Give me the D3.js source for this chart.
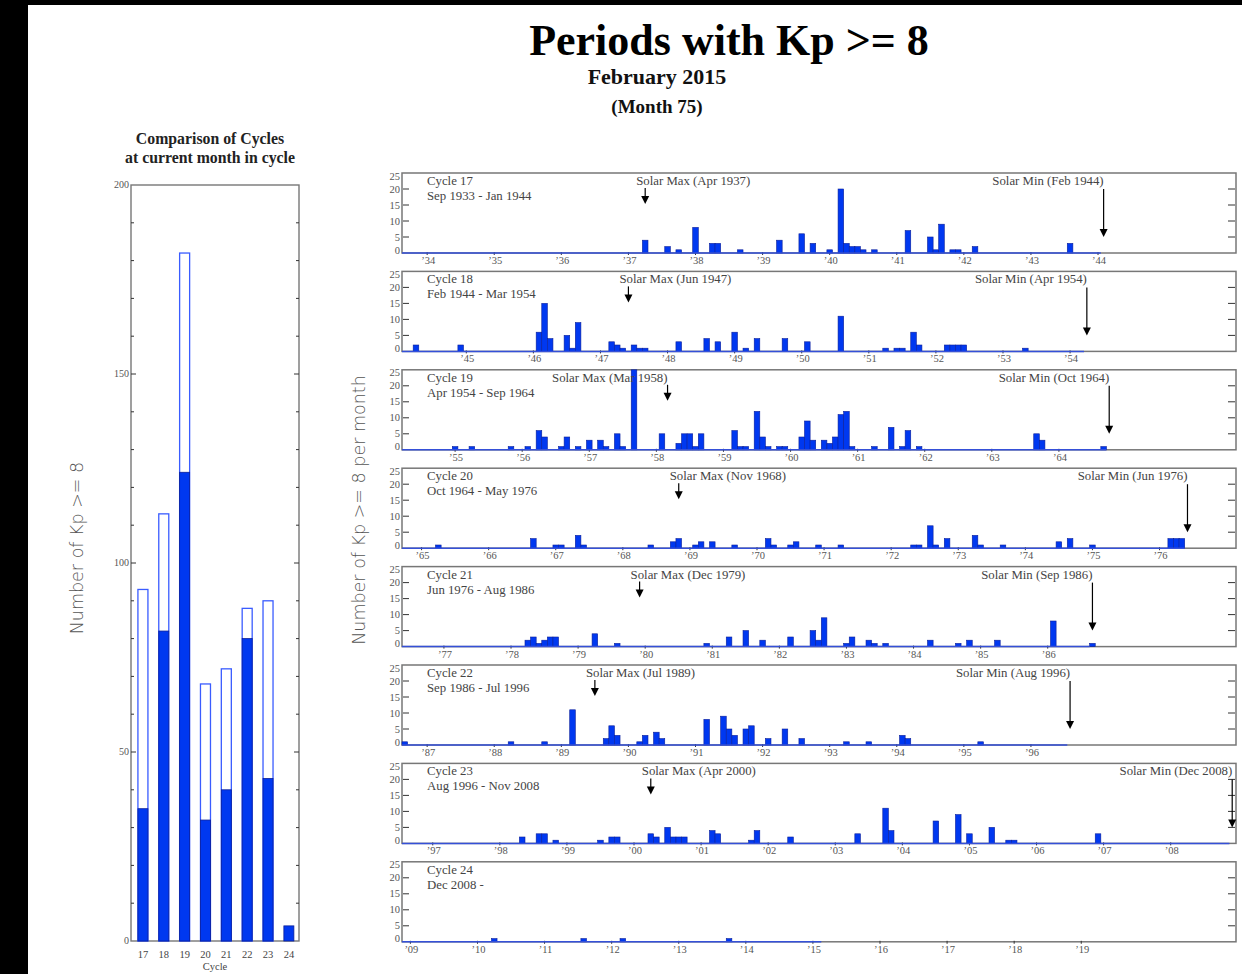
<!DOCTYPE html>
<html>
<head>
<meta charset="utf-8">
<script src="https://cdn.jsdelivr.net/npm/d3@7"></script>
<style>
  html, body { margin: 0; padding: 0; background: #000; }
  svg { display: block; }
  text { font-family: "Liberation Serif", "DejaVu Serif", serif; }
</style>
</head>
<body>
<svg id="chart" width="1242" height="974"></svg>
<script>
// Comparison of cycles (left chart)
const cycles = [17, 18, 19, 20, 21, 22, 23, 24];
const cycleTotals = [93, 113, 182, 68, 72, 88, 90, 4];
const atCurrentMonth = [35, 82, 124, 32, 40, 80, 43, 4];
const leftTicks = [0, 50, 100, 150, 200];

// Cycle panels (right)
const cycleNames = ['Cycle 17', 'Cycle 18', 'Cycle 19', 'Cycle 20', 'Cycle 21', 'Cycle 22', 'Cycle 23', 'Cycle 24'];
const cycleRanges = ['Sep 1933 - Jan 1944', 'Feb 1944 - Mar 1954', 'Apr 1954 - Sep 1964', 'Oct 1964 - May 1976',
  'Jun 1976 - Aug 1986', 'Sep 1986 - Jul 1996', 'Aug 1996 - Nov 2008', 'Dec 2008 -'];
const startYears = [1933, 1944, 1954, 1964, 1976, 1986, 1996, 2008];
const startMonths = [9, 2, 4, 10, 6, 9, 8, 12];
const lastMonth = [124, 121, 125, 139, 122, 118, 147, 74];
const lastYearTick = [124, 121, 125, 139, 122, 118, 147, 125];
const maxLabels = ['Solar Max (Apr 1937)', 'Solar Max (Jun 1947)', 'Solar Max (Mar 1958)', 'Solar Max (Nov 1968)',
  'Solar Max (Dec 1979)', 'Solar Max (Jul 1989)', 'Solar Max (Apr 2000)', null];
const maxMonth = [43, 40, 47, 49, 42, 34, 44, null];
const maxAnchor = ['start', 'start', 'end', 'start', 'start', 'start', 'start', null];
const minLabels = ['Solar Min (Feb 1944)', 'Solar Min (Apr 1954)', 'Solar Min (Oct 1964)', 'Solar Min (Jun 1976)',
  'Solar Min (Sep 1986)', 'Solar Min (Aug 1996)', 'Solar Min (Dec 2008)', null];
const minMonth = [125, 122, 126, 140, 123, 119, 148, null];
const panelTicks = [0, 5, 10, 15, 20, 25];

// [month in cycle, number of Kp >= 8 periods]
const c17 = [[43, 4], [47, 2], [49, 1], [52, 8], [55, 3], [56, 3], [60, 1], [67, 4], [71, 6], [73, 3], [76, 1], [78, 20],
  [79, 3], [80, 2], [81, 2], [82, 1], [84, 1], [90, 7], [94, 5], [95, 1], [96, 9], [98, 1], [99, 1], [102, 2], [119, 3]];
const c18 = [[2, 2], [10, 2], [24, 6], [25, 15], [26, 4], [29, 5], [30, 1], [31, 9], [37, 3], [38, 2], [39, 1], [41, 2],
  [42, 1], [43, 1], [49, 3], [54, 4], [56, 3], [59, 6], [61, 1], [63, 4], [68, 4], [72, 3], [78, 11], [86, 1], [88, 1],
  [89, 1], [91, 6], [92, 2], [97, 2], [98, 2], [99, 2], [100, 2], [111, 1]];
const c19 = [[9, 1], [12, 1], [19, 1], [22, 1], [24, 6], [25, 4], [28, 1], [29, 4], [31, 1], [33, 3], [35, 3], [36, 1],
  [38, 5], [39, 1], [41, 25], [46, 5], [49, 2], [50, 5], [51, 5], [52, 1], [53, 5], [59, 6], [60, 1], [61, 1], [63, 12],
  [64, 4], [65, 1], [67, 1], [68, 1], [71, 4], [72, 9], [73, 3], [75, 3], [76, 2], [77, 4], [78, 11], [79, 12], [80, 1],
  [84, 1], [87, 7], [89, 1], [90, 6], [92, 1], [113, 5], [114, 3], [125, 1]];
const c20 = [[6, 1], [23, 3], [27, 1], [28, 1], [31, 4], [32, 1], [44, 1], [48, 2], [49, 3], [52, 1], [53, 2], [55, 2],
  [59, 1], [65, 3], [66, 1], [69, 1], [70, 2], [74, 1], [78, 1], [91, 1], [92, 1], [94, 7], [95, 1], [97, 3], [102, 4],
  [103, 1], [107, 1], [117, 2], [119, 3], [123, 1], [137, 3], [138, 3], [139, 3]];
const c21 = [[22, 2], [23, 3], [24, 1], [25, 2], [26, 3], [27, 3], [34, 4], [38, 1], [54, 1], [58, 3], [61, 5], [64, 2],
  [69, 3], [73, 5], [74, 2], [75, 9], [79, 1], [80, 3], [83, 2], [84, 1], [86, 1], [94, 2], [99, 1], [101, 2], [106, 2],
  [116, 8], [123, 1]];
const c22 = [[0, 1], [19, 1], [25, 1], [30, 11], [36, 2], [37, 6], [38, 3], [42, 1], [43, 3], [45, 4], [46, 2], [54, 8],
  [57, 9], [58, 5], [59, 3], [61, 5], [62, 6], [65, 2], [68, 5], [71, 2], [79, 1], [83, 1], [89, 3], [90, 2], [103, 1]];
const c23 = [[21, 2], [24, 3], [25, 3], [27, 1], [35, 1], [37, 2], [38, 2], [44, 3], [45, 2], [47, 5], [48, 2], [49, 2],
  [50, 2], [55, 4], [56, 3], [62, 1], [63, 4], [69, 2], [81, 3], [86, 11], [87, 4], [95, 7], [99, 9], [101, 3], [105, 5],
  [108, 1], [109, 1], [124, 3]];
const c24 = [[16, 1], [32, 1], [39, 1], [58, 1]];
const cycleData = [c17, c18, c19, c20, c21, c22, c23, c24];

const blue = '#0038f0';
const blueEdge = '#0a1f9a';
const grey = '#444';
const panelFont = '12.8px';

const svg = d3.select('#chart');

// white page on the black screen
svg.append('rect')
  .attr('x', 28).attr('y', 5)
  .attr('width', 1214).attr('height', 969)
  .attr('fill', '#fff');

// Titles
svg.append('text')
  .attr('x', 729).attr('y', 55)
  .attr('text-anchor', 'middle')
  .style('font-size', '44px').style('font-weight', 'bold')
  .attr('fill', '#000')
  .text('Periods with Kp >= 8');

svg.append('text')
  .attr('x', 657).attr('y', 84)
  .attr('text-anchor', 'middle')
  .style('font-size', '22px').style('font-weight', 'bold')
  .attr('fill', '#111')
  .text('February 2015');

svg.append('text')
  .attr('x', 657).attr('y', 113)
  .attr('text-anchor', 'middle')
  .style('font-size', '19px').style('font-weight', 'bold')
  .attr('fill', '#111')
  .text('(Month 75)');

// ---- Left chart: comparison of cycles ----
const left = { x0: 131, x1: 299, y0: 185, y1: 941 };

svg.append('text')
  .attr('x', 210).attr('y', 144)
  .attr('text-anchor', 'middle')
  .style('font-size', '15.8px').style('font-weight', 'bold')
  .attr('fill', '#222')
  .text('Comparison of Cycles');

svg.append('text')
  .attr('x', 210).attr('y', 163)
  .attr('text-anchor', 'middle')
  .style('font-size', '15.8px').style('font-weight', 'bold')
  .attr('fill', '#222')
  .text('at current month in cycle');

const xLeft = d3.scaleBand()
  .domain(cycles)
  .range([left.x0 + 1.5, left.x1 + 0.3])
  .paddingInner(0.52)
  .paddingOuter(0.26);

const yLeft = d3.scaleLinear()
  .domain([0, 200])
  .range([left.y1, left.y0]);

const leftChart = svg.append('g');

leftChart.append('rect')
  .attr('x', left.x0).attr('y', left.y0)
  .attr('width', left.x1 - left.x0).attr('height', left.y1 - left.y0)
  .attr('fill', '#fff')
  .attr('stroke', '#777')
  .attr('stroke-width', 1.4);

// minor ticks every 10, major every 50
d3.range(10, 200, 10).forEach(v => {
  const len = v % 50 === 0 ? 5 : 3;
  leftChart.append('line')
    .attr('x1', left.x0).attr('x2', left.x0 + len)
    .attr('y1', yLeft(v)).attr('y2', yLeft(v))
    .attr('stroke', '#333');
  leftChart.append('line')
    .attr('x1', left.x1 - len).attr('x2', left.x1)
    .attr('y1', yLeft(v)).attr('y2', yLeft(v))
    .attr('stroke', '#333');
});

leftChart.selectAll('.ltick')
  .data(leftTicks)
  .enter()
  .append('text')
  .attr('class', 'ltick')
  .attr('x', left.x0 - 2)
  .attr('y', d => yLeft(d) + 3)
  .attr('text-anchor', 'end')
  .style('font-size', '10px')
  .attr('fill', '#555')
  .text(d => d);

// outlined bars: total for the whole cycle
leftChart.selectAll('.total')
  .data(cycles.map((c, i) => ({ c, v: cycleTotals[i] })).filter(d => d.c !== 24))
  .enter()
  .append('rect')
  .attr('class', 'total')
  .attr('x', d => xLeft(d.c))
  .attr('y', d => yLeft(d.v))
  .attr('width', xLeft.bandwidth())
  .attr('height', d => yLeft(0) - yLeft(d.v))
  .attr('fill', '#fff')
  .attr('stroke', '#3a5cff')
  .attr('stroke-width', 1.3);

// filled bars: count at current month in cycle
leftChart.selectAll('.current')
  .data(cycles.map((c, i) => ({ c, v: atCurrentMonth[i] })))
  .enter()
  .append('rect')
  .attr('class', 'current')
  .attr('x', d => xLeft(d.c))
  .attr('y', d => yLeft(d.v))
  .attr('width', xLeft.bandwidth())
  .attr('height', d => yLeft(0) - yLeft(d.v))
  .attr('fill', blue)
  .attr('stroke', blueEdge)
  .attr('stroke-width', 0.8);

leftChart.selectAll('.clabel')
  .data(cycles)
  .enter()
  .append('text')
  .attr('class', 'clabel')
  .attr('x', d => xLeft(d) + xLeft.bandwidth() / 2)
  .attr('y', 958)
  .attr('text-anchor', 'middle')
  .style('font-size', '10.5px')
  .attr('fill', '#444')
  .text(d => d);

leftChart.append('text')
  .attr('x', 215).attr('y', 970)
  .attr('text-anchor', 'middle')
  .style('font-size', '10.5px')
  .attr('fill', '#444')
  .text('Cycle');

leftChart.append('text')
  .attr('transform', 'translate(83,548) rotate(-90)')
  .attr('text-anchor', 'middle')
  .style('font-family', '"DejaVu Sans", sans-serif')
  .style('font-size', '17.5px')
  .style('font-weight', '300')
  .attr('fill', '#555')
  .text('Number of Kp >= 8');

svg.append('text')
  .attr('transform', 'translate(365,510) rotate(-90)')
  .attr('text-anchor', 'middle')
  .style('font-family', '"DejaVu Sans", sans-serif')
  .style('font-size', '17.5px')
  .style('font-weight', '300')
  .attr('fill', '#555')
  .text('Number of Kp >= 8 per month');

// ---- Right: one panel per cycle ----
const xMonth = d3.scaleLinear()
  .domain([-0.5, 148.5])
  .range([402, 1235]);
const monthW = xMonth(1) - xMonth(0);

cycleNames.forEach((name, i) => {
  const top = 173 + i * 98.4;
  const base = top + 80;
  const yPanel = d3.scaleLinear().domain([0, 25]).range([base, top]);
  const g = svg.append('g').attr('class', 'panel');

  g.append('rect')
    .attr('x', 402).attr('y', top)
    .attr('width', 834).attr('height', 80)
    .attr('fill', '#fff')
    .attr('stroke', '#777')
    .attr('stroke-width', 1.5);

  // y ticks on both sides
  [5, 10, 15, 20].forEach(v => {
    g.append('line')
      .attr('x1', 403).attr('x2', 409)
      .attr('y1', yPanel(v)).attr('y2', yPanel(v))
      .attr('stroke', '#333');
    g.append('line')
      .attr('x1', 1228).attr('x2', 1235)
      .attr('y1', yPanel(v)).attr('y2', yPanel(v))
      .attr('stroke', '#333');
  });

  g.selectAll('.ylab')
    .data(panelTicks)
    .enter()
    .append('text')
    .attr('class', 'ylab')
    .attr('x', 400)
    .attr('y', d => yPanel(d) + 3.5 + (d === 0 ? -3 : 0) + (d === 25 ? 3 : 0))
    .attr('text-anchor', 'end')
    .style('font-size', '10.5px')
    .attr('fill', '#555')
    .text(d => d);

  // year ticks (January of each year)
  const firstJan = (13 - startMonths[i]) % 12;
  const years = d3.range(firstJan, lastYearTick[i] + 1, 12)
    .map(m => ({ m, year: startYears[i] + Math.round((startMonths[i] - 1 + m) / 12) }));
  g.selectAll('.xt')
    .data(years)
    .enter()
    .append('line')
    .attr('class', 'xt')
    .attr('x1', d => xMonth(d.m)).attr('x2', d => xMonth(d.m))
    .attr('y1', base - 1).attr('y2', base + 2)
    .attr('stroke', '#333');
  g.selectAll('.xl')
    .data(years)
    .enter()
    .append('text')
    .attr('class', 'xl')
    .attr('x', d => xMonth(d.m) + 1)
    .attr('y', base + 11)
    .attr('text-anchor', 'middle')
    .style('font-size', '10.5px')
    .attr('fill', '#555')
    .text(d => '\u2019' + String(d.year % 100).padStart(2, '0'));

  // bars
  g.selectAll('.bar')
    .data(cycleData[i])
    .enter()
    .append('rect')
    .attr('class', 'bar')
    .attr('x', d => xMonth(d[0] - 0.5))
    .attr('width', monthW)
    .attr('y', d => yPanel(Math.min(d[1], 25)))
    .attr('height', d => base - yPanel(Math.min(d[1], 25)))
    .attr('fill', blue)
    .attr('stroke', blueEdge)
    .attr('stroke-width', 0.6);

  // blue baseline over the length of the cycle
  g.append('line')
    .attr('x1', 402).attr('x2', xMonth(lastMonth[i] + 0.5))
    .attr('y1', base).attr('y2', base)
    .attr('stroke', '#3550d8')
    .attr('stroke-width', 1.5);

  g.append('text')
    .attr('x', 427).attr('y', top + 12)
    .style('font-size', panelFont)
    .attr('fill', grey)
    .text(name);
  g.append('text')
    .attr('x', 427).attr('y', top + 27)
    .style('font-size', panelFont)
    .attr('fill', grey)
    .text(cycleRanges[i]);

  const arrow = (x, y0, y1) => {
    g.append('line')
      .attr('x1', x).attr('x2', x)
      .attr('y1', y0).attr('y2', y1 - 6)
      .attr('stroke', '#000')
      .attr('stroke-width', 1.2);
    g.append('path')
      .attr('d', `M${x - 4},${y1 - 8}L${x + 4},${y1 - 8}L${x},${y1}Z`)
      .attr('fill', '#000');
  };

  if (maxLabels[i]) {
    const xm = xMonth(maxMonth[i]);
    g.append('text')
      .attr('x', maxAnchor[i] === 'start' ? xm - 9 : xm)
      .attr('y', top + 12)
      .attr('text-anchor', maxAnchor[i])
      .style('font-size', panelFont)
      .attr('fill', grey)
      .text(maxLabels[i]);
    arrow(xm, top + 15, top + 31);
  }
  if (minLabels[i]) {
    const xn = xMonth(minMonth[i]);
    g.append('text')
      .attr('x', xn).attr('y', top + 12)
      .attr('text-anchor', 'end')
      .style('font-size', panelFont)
      .attr('fill', grey)
      .text(minLabels[i]);
    arrow(xn, top + 16, top + 64);
  }
});
</script>
</body>
</html>
